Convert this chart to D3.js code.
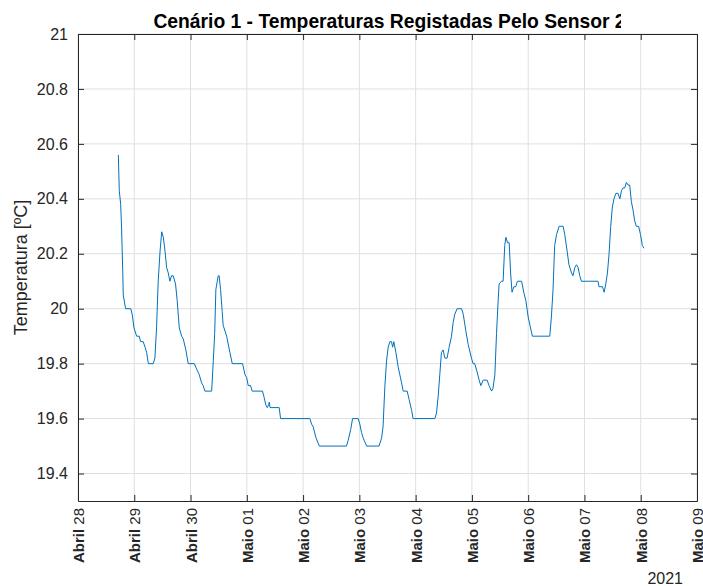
<!DOCTYPE html>
<html>
    <head>
        <meta charset="utf-8">
        <script src="https://d3js.org/d3.v7.min.js"></script>
        <style>
            body {
                margin: 0;
                background: white;
            }
            text {
                font-family: "Liberation Sans", Arial, sans-serif;
                fill: #262626;
            }
        </style>
    </head>
    <body>
    <script>

        // hours since 2021-04-28 00:00 and the temperature read at that time
        const startDate = new Date(2021, 3, 28);
        const hoursFromStart = [
            17.2, 17.6, 18.2, 18.6, 19.1, 19.3, 20.3, 22.5, 23.1, 23.9, 25.0, 26.1, 26.7, 27.8, 28.6, 29.3, 30.0,
            32.1, 32.8, 33.5, 34.2, 35.0, 35.7, 36.4, 37.1, 37.8, 38.5, 39.2, 39.9, 40.6, 41.6, 42.3, 43.2, 44.2,
            44.9, 46.0, 47.0, 49.6, 50.6, 51.7, 52.7, 53.4, 54.1, 57.0, 57.7, 58.3, 58.8, 59.4, 59.8, 60.2, 60.8,
            61.5, 61.9, 63.4, 64.8, 65.8, 70.2, 71.2, 71.9, 72.6, 73.6, 74.3, 78.7, 79.3, 80.1, 80.7, 81.3, 81.6,
            81.9, 85.8, 86.4, 98.9, 99.6, 100.3, 101.5, 102.9, 114.5, 115.2, 116.3, 117.1, 119.5, 120.2, 120.9,
            121.6, 123.1, 128.4, 129.5, 130.1, 130.9, 131.6, 132.3, 133.0, 133.7, 134.2, 134.7, 135.6, 136.5,
            138.0, 138.7, 140.4, 141.2, 142.3, 142.9, 152.2, 152.9, 153.6, 154.3, 155.0, 155.7, 156.5, 157.4,
            158.3, 159.3, 160.0, 160.7, 161.7, 163.6, 164.3, 165.4, 166.4, 167.8, 168.5, 169.2, 170.2, 171.1,
            171.8, 172.8, 174.5, 175.3, 176.4, 177.0, 177.8, 178.5, 179.2, 179.6, 180.6, 181.3, 182.0, 182.5,
            183.2, 183.9, 184.5, 185.1, 185.9, 186.7, 187.4, 189.2, 190.1, 191.0, 192.0, 193.0, 193.8, 201.2,
            201.9, 202.6, 203.3, 204.1, 205.2, 206.9, 207.6, 208.6, 209.4, 210.5, 211.1, 211.9, 212.6, 213.3,
            214.0, 214.7, 221.8, 222.2, 223.7, 224.4, 225.1, 225.8, 226.5, 227.2, 227.9, 228.6, 229.4, 230.3,
            231.1, 231.8, 232.5, 233.2, 233.9, 234.6, 235.3, 236.0, 236.7, 237.4, 238.1, 239.1, 239.9, 240.7,
            241.4
        ];
        const temps = [
            20.56, 20.43, 20.38, 20.29, 20.13, 20.05, 20.0, 20.0, 19.98, 19.93, 19.9, 19.9, 19.88, 19.88, 19.86, 19.84, 19.8,
            19.8, 19.82, 19.93, 20.1, 20.21, 20.28, 20.26, 20.21, 20.15, 20.13, 20.1, 20.12, 20.12, 20.09, 20.03, 19.93, 19.9,
            19.89, 19.85, 19.8, 19.8, 19.78, 19.76, 19.73, 19.72, 19.7, 19.7, 19.81, 19.91, 20.07, 20.1, 20.12, 20.12, 20.07,
            19.99, 19.94, 19.9, 19.84, 19.8, 19.8, 19.76, 19.75, 19.72, 19.72, 19.7, 19.7, 19.68, 19.65, 19.64, 19.65, 19.66,
            19.64, 19.64, 19.6, 19.6, 19.58, 19.57, 19.53, 19.5, 19.5, 19.52, 19.56, 19.6, 19.6, 19.58, 19.55,
            19.53, 19.5, 19.5, 19.53, 19.57, 19.72, 19.81, 19.86, 19.88, 19.88, 19.86, 19.88, 19.84, 19.79,
            19.73, 19.7, 19.7, 19.67, 19.63, 19.6, 19.6, 19.62, 19.68, 19.76, 19.84, 19.85, 19.82, 19.82,
            19.86, 19.9, 19.95, 19.98, 20.0, 20.0, 19.98, 19.92, 19.87, 19.82, 19.8, 19.8, 19.77, 19.74,
            19.72, 19.74, 19.74, 19.72, 19.7, 19.71, 19.76, 19.91, 20.03, 20.09, 20.1, 20.1, 20.23, 20.26,
            20.24, 20.24, 20.13, 20.06, 20.08, 20.08, 20.1, 20.1, 20.06, 20.03, 19.97, 19.93, 19.9, 19.9,
            19.97, 20.07, 20.23, 20.27, 20.3, 20.3, 20.27, 20.21, 20.16, 20.13, 20.12, 20.15, 20.16, 20.15,
            20.12, 20.1, 20.1, 20.08, 20.08, 20.06, 20.09, 20.13, 20.2, 20.3, 20.37, 20.4, 20.42, 20.42,
            20.4, 20.43, 20.44, 20.44, 20.46, 20.45, 20.45, 20.39, 20.36, 20.32, 20.3, 20.3, 20.27, 20.23,
            20.22
        ];

        const yTicks = [19.4, 19.6, 19.8, 20, 20.2, 20.4, 20.6, 20.8, 21];
        const yDomain = [19.3, 21];
        const monthNames = {3: 'Abril', 4: 'Maio'};
        const titleText = 'Cenário 1 - Temperaturas Registadas Pelo Sensor 2';
        const yLabel = 'Temperatura [ºC]';
        const yearLabel = '2021';

        const width = 703;
        const height = 586;
        const margin = {top: 34, right: 6, bottom: 85, left: 78};
        const plotW = width - margin.left - margin.right;
        const plotH = height - margin.top - margin.bottom;

        const data = hoursFromStart.map((h, i) => ({
            date: new Date(startDate.getTime() + h * 3600 * 1000),
            temp: temps[i]
        }));

        const xScale = d3.scaleTime()
            .domain([new Date(2021, 3, 28), new Date(2021, 4, 9)])
            .range([0, plotW]);
        const yScale = d3.scaleLinear()
            .domain(yDomain)
            .range([plotH, 0]);
        const xTicks = d3.timeDay.range(new Date(2021, 3, 28), new Date(2021, 4, 10));

        const svg = d3.select('body')
            .append('svg')
            .attr('width', width)
            .attr('height', height);

        const g = svg.append('g')
            .attr('transform', 'translate(' + margin.left + ',' + margin.top + ')');

        // grid
        g.selectAll('.vgrid')
            .data(xTicks)
            .enter()
            .append('line')
            .attr('x1', d => xScale(d)).attr('x2', d => xScale(d))
            .attr('y1', 0).attr('y2', plotH)
            .style('stroke', '#dfdfdf')
            .style('stroke-width', 1);
        g.selectAll('.hgrid')
            .data(yTicks)
            .enter()
            .append('line')
            .attr('x1', 0).attr('x2', plotW)
            .attr('y1', d => yScale(d)).attr('y2', d => yScale(d))
            .style('stroke', '#dfdfdf')
            .style('stroke-width', 1);

        // the line
        const line = d3.line()
            .x(d => xScale(d.date))
            .y(d => yScale(d.temp));
        g.append('path')
            .datum(data)
            .attr('d', line)
            .style('fill', 'none')
            .style('stroke', '#0072bd')
            .style('stroke-width', 1);

        // axes (ticks inward, box around)
        const yAxisL = d3.axisLeft(yScale).tickValues(yTicks).tickSizeInner(-6).tickSizeOuter(0).tickPadding(10)
            .tickFormat(d => d3.format('~g')(d));
        const yAxisR = d3.axisRight(yScale).tickValues(yTicks).tickSizeInner(-6).tickSizeOuter(0).tickFormat('');
        const xAxisB = d3.axisBottom(xScale).tickValues(xTicks).tickSizeInner(-6).tickSizeOuter(0).tickFormat('');
        const xAxisT = d3.axisTop(xScale).tickValues(xTicks).tickSizeInner(-6).tickSizeOuter(0).tickFormat('');

        const yl = g.append('g').call(yAxisL);
        g.append('g').attr('transform', 'translate(' + plotW + ',0)').call(yAxisR);
        g.append('g').attr('transform', 'translate(0,' + plotH + ')').call(xAxisB);
        g.append('g').call(xAxisT);
        g.selectAll('.domain').style('stroke', '#262626');
        g.selectAll('.tick line').style('stroke', '#262626');
        yl.selectAll('text')
            .style('font-size', '16px')
            .style('fill', '#262626')
            .style('font-family', '"Liberation Sans", Arial, sans-serif');

        // x tick labels: rotated, month bold + day
        const xl = g.selectAll('.xlab')
            .data(xTicks)
            .enter()
            .append('text')
            .attr('transform', d => 'translate(' + (xScale(d) + 6) + ',' + (plotH + 7) + ') rotate(-90)')
            .attr('text-anchor', 'end')
            .style('font-size', '15px');
        xl.append('tspan')
            .style('font-weight', 'bold')
            .text(d => monthNames[d.getMonth()] + ' ');
        xl.append('tspan')
            .text(d => d3.timeFormat('%d')(d));

        svg.append('text')
            .attr('x', margin.left + plotW - 14)
            .attr('y', 584)
            .attr('text-anchor', 'end')
            .style('font-size', '16px')
            .text(yearLabel);

        // y label
        svg.append('text')
            .attr('transform', 'translate(27,' + (margin.top + plotH / 2) + ') rotate(-90)')
            .attr('text-anchor', 'middle')
            .style('font-size', '18px')
            .text(yLabel);

        // title (clipped at the right like the original)
        svg.append('clipPath')
            .attr('id', 'tclip')
            .append('rect')
            .attr('x', 0).attr('y', 0).attr('width', 621).attr('height', 34);
        svg.append('text')
            .attr('x', margin.left + plotW / 2 + 2)
            .attr('y', 28)
            .attr('text-anchor', 'middle')
            .attr('clip-path', 'url(#tclip)')
            .style('font-size', '19.3px')
            .style('font-weight', 'bold')
            .style('fill', 'black')
            .text(titleText);

    </script>
    </body>
</html>
